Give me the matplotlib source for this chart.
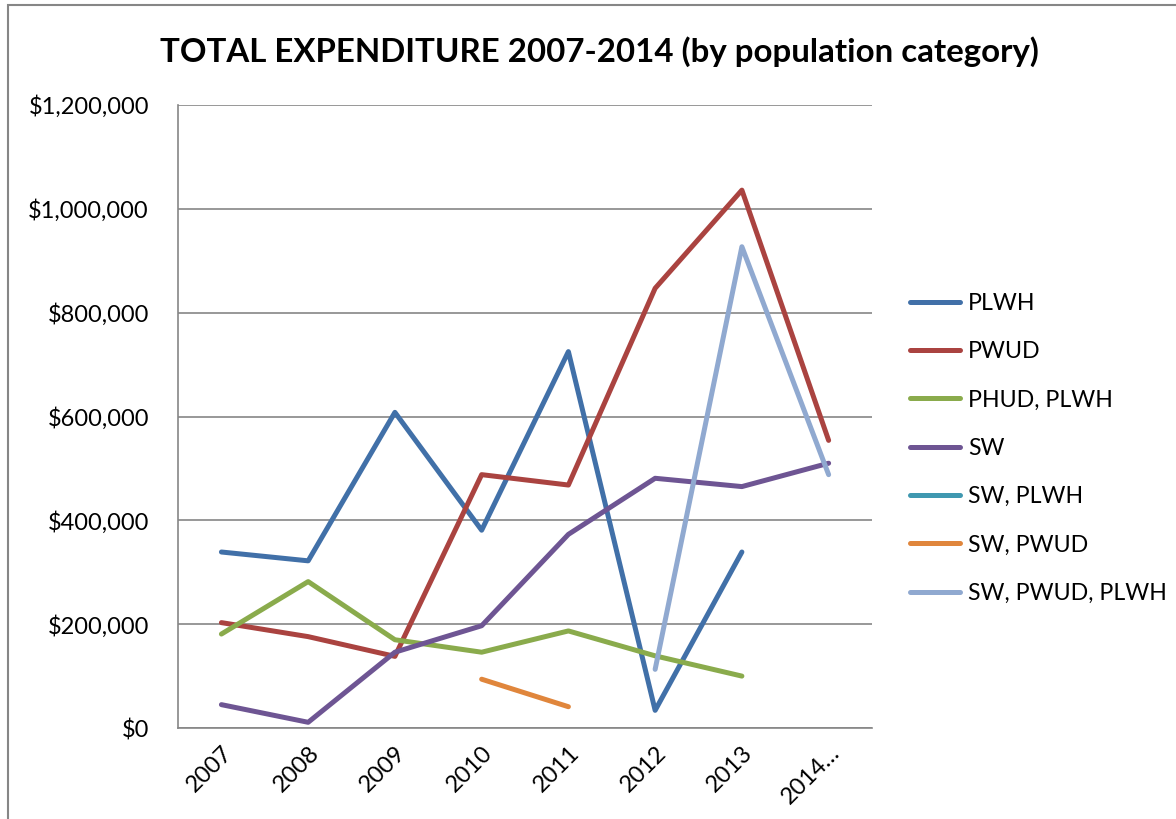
import numpy as np
import matplotlib.pyplot as plt
from matplotlib.patches import Rectangle
from matplotlib.ticker import FuncFormatter

plt.rcParams['font.family'] = ['Lato', 'DejaVu Sans']

years = ['2007', '2008', '2009', '2010', '2011', '2012', '2013', '2014\u2026']
nan = np.nan

plwh = [339000, 322000, 608000, 381000, 725000, 34000, 339000, nan]
pwud = [203000, 176000, 138000, 488000, 468000, 847000, 1036000, 554000]
phud_plwh = [181000, 282000, 170000, 146000, 187000, 139000, 100000, nan]
sw = [45000, 11000, 146000, 197000, 373000, 481000, 465000, 510000]
sw_plwh = [nan, nan, nan, nan, nan, nan, nan, nan]
sw_pwud = [nan, nan, nan, 94000, 41000, nan, nan, nan]
sw_pwud_plwh = [nan, nan, nan, nan, nan, 113000, 927000, 488000]

series = [
    ('PLWH', plwh, '#4170a8'),
    ('PWUD', pwud, '#aa4340'),
    ('PHUD, PLWH', phud_plwh, '#8aab4c'),
    ('SW', sw, '#6e5593'),
    ('SW, PLWH', sw_plwh, '#3f98b0'),
    ('SW, PWUD', sw_pwud, '#e0863c'),
    ('SW, PWUD, PLWH', sw_pwud_plwh, '#90a9d0'),
]

fig = plt.figure(figsize=(11.76, 8.19), dpi=100)
ax = fig.add_axes([0.1514, 0.1111, 0.5901, 0.7607])

x = np.arange(len(years))
for name, vals, col in series:
    ax.plot(x, vals, color=col, lw=3.6, label=name, solid_capstyle='round')

ax.set_xlim(-0.5, len(years) - 0.5)
ax.set_ylim(0, 1200000)
ax.set_yticks(np.arange(0, 1200001, 200000))
ax.yaxis.set_major_formatter(FuncFormatter(lambda v, p: '${:,.0f}'.format(v)))
ax.set_xticks(x)
ax.set_xticklabels(years, rotation=45, ha='right', rotation_mode='anchor')
ax.tick_params(axis='x', length=0, labelsize=17, pad=10)
ax.tick_params(axis='y', length=0, labelsize=17, pad=21)
ax.grid(axis='y', color='#868686', lw=1.2)
ax.set_axisbelow(True)
for s in ['top', 'right']:
    ax.spines[s].set_visible(False)
for s in ['left', 'bottom']:
    ax.spines[s].set_color('#868686')
    ax.spines[s].set_linewidth(1.2)

fig.text(0.51, 0.937, 'TOTAL EXPENDITURE 2007-2014 (by population category)',
         ha='center', va='center', fontsize=23.8, fontweight='bold')

ax.legend(loc='center left', bbox_to_anchor=(1.0245, 0.449), frameon=False,
          fontsize=16.7, handlelength=2.15, handletextpad=0.35, labelspacing=1.18)

fig.patches.append(Rectangle((8 / 1176, -0.05), 1.2, 1.05 - 5 / 819,
                             transform=fig.transFigure, fill=False,
                             edgecolor='#868686', lw=1.5))

fig.savefig('out.png', dpi=100)
